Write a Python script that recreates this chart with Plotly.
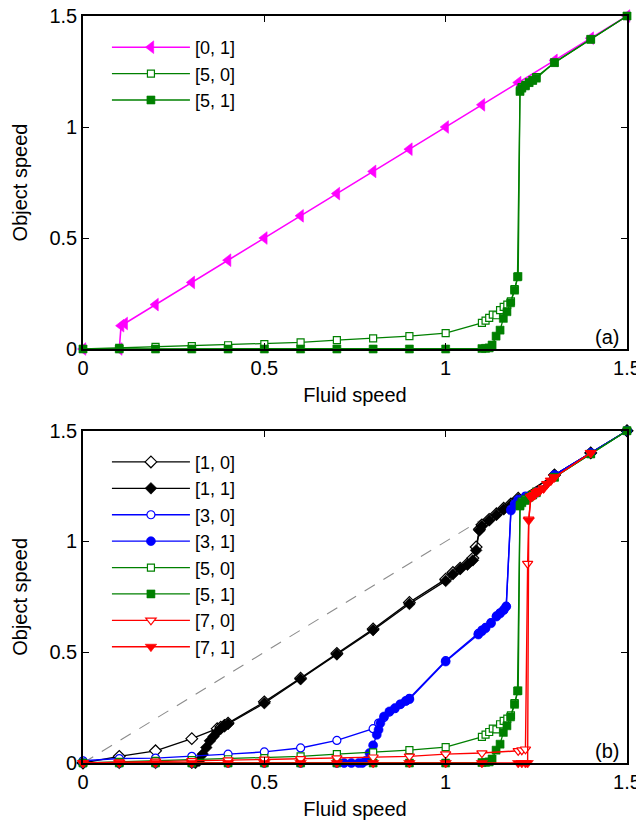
import plotly.graph_objects as go
from plotly.subplots import make_subplots

# ---------------- Panel (a) data ----------------
a01_x = [0, 0.1, 0.105, 0.115, 0.2, 0.3, 0.4, 0.5, 0.6, 0.7, 0.8, 0.9, 1.0, 1.1, 1.2, 1.3, 1.4, 1.5]
a01_y = [0, 0, 0.105, 0.115, 0.2, 0.3, 0.4, 0.5, 0.6, 0.7, 0.8, 0.9, 1.0, 1.1, 1.2, 1.3, 1.4, 1.5]

g50_x = [0, 0.1, 0.2, 0.3, 0.4, 0.5, 0.6, 0.7, 0.8, 0.9, 1.0, 1.1, 1.11, 1.12, 1.13, 1.14, 1.15,
         1.16, 1.17, 1.18, 1.19, 1.2, 1.205, 1.21, 1.22, 1.23, 1.24, 1.25, 1.3, 1.4, 1.5]
g50_y = [0, 0.005, 0.01, 0.013, 0.017, 0.022, 0.03, 0.04, 0.048, 0.058, 0.072, 0.118, 0.128, 0.14,
         0.155, 0.152, 0.175, 0.19, 0.2, 0.215, 0.27, 0.327, 1.165, 1.18, 1.19, 1.2, 1.21, 1.225, 1.29, 1.395, 1.5]

g51_x = [0, 0.1, 0.2, 0.3, 0.4, 0.5, 0.6, 0.7, 0.8, 0.9, 1.0, 1.1, 1.11, 1.12, 1.128, 1.139, 1.15,
         1.159, 1.169, 1.179, 1.19, 1.198, 1.205, 1.21, 1.22, 1.23, 1.24, 1.25, 1.3, 1.4, 1.5]
g51_y = [0, 0, 0, 0, 0, 0, 0, 0, 0, 0, 0, 0.002, 0.003, 0.005, 0.018, 0.058, 0.085,
         0.138, 0.168, 0.208, 0.265, 0.325, 1.16, 1.175, 1.185, 1.2, 1.21, 1.22, 1.29, 1.395, 1.5]

# ---------------- Panel (b) data ----------------
k10_x = [0, 0.1, 0.2, 0.3, 0.37, 0.38, 0.39, 0.4, 0.5, 0.6, 0.7, 0.8, 0.9, 1.0, 1.02, 1.04, 1.06,
         1.075, 1.084, 1.093, 1.1, 1.12, 1.14, 1.16, 1.18, 1.2, 1.3, 1.4, 1.5]
k10_y = [0, 0.03, 0.055, 0.11, 0.155, 0.162, 0.17, 0.18, 0.276, 0.383, 0.495, 0.605, 0.725, 0.83, 0.86,
         0.88, 0.9, 0.925, 0.975, 1.055, 1.075, 1.1, 1.125, 1.15, 1.17, 1.195, 1.3, 1.4, 1.5]

k11_x = [0, 0.1, 0.2, 0.3, 0.31, 0.32, 0.33, 0.34, 0.35, 0.36, 0.37, 0.38, 0.39, 0.4, 0.5, 0.6, 0.7,
         0.8, 0.9, 1.0, 1.02, 1.04, 1.06, 1.075, 1.084, 1.093, 1.1, 1.12, 1.14, 1.16, 1.18, 1.2, 1.3, 1.4, 1.5]
k11_y = [0, 0, 0, 0, 0, 0.01, 0.04, 0.07, 0.1, 0.12, 0.14, 0.155, 0.165, 0.176, 0.27, 0.378, 0.49,
         0.6, 0.718, 0.822, 0.852, 0.875, 0.895, 0.915, 0.96, 1.05, 1.07, 1.095, 1.12, 1.145, 1.165, 1.19, 1.3, 1.4, 1.5]

b30_x = [0, 0.1, 0.2, 0.3, 0.4, 0.5, 0.6, 0.7, 0.8, 0.815, 0.83, 0.845, 0.86, 0.875, 0.89, 0.9, 1.0,
         1.09, 1.1, 1.11, 1.125, 1.14, 1.15, 1.16, 1.167, 1.18, 1.19, 1.2, 1.22, 1.25, 1.3, 1.4, 1.5]
b30_y = [0.01, 0.02, 0.022, 0.03, 0.04, 0.05, 0.068, 0.102, 0.155, 0.18, 0.205, 0.23, 0.245, 0.265,
         0.28, 0.292, 0.462, 0.585, 0.6, 0.612, 0.634, 0.664, 0.678, 0.692, 0.708, 1.145, 1.17, 1.19,
         1.205, 1.225, 1.3, 1.4, 1.5]

b31_x = [0, 0.1, 0.2, 0.3, 0.4, 0.5, 0.6, 0.7, 0.72, 0.74, 0.76, 0.77, 0.78, 0.79, 0.8, 0.81, 0.815,
         0.82, 0.83, 0.845, 0.86, 0.875, 0.89, 0.9, 1.0, 1.09, 1.1, 1.11, 1.125, 1.14, 1.15, 1.16,
         1.167, 1.18, 1.19, 1.2, 1.22, 1.25, 1.3, 1.4, 1.5]
b31_y = [0, 0, 0, 0, 0, 0, 0, 0, 0, 0, 0, 0, 0.01, 0.045, 0.08, 0.127, 0.15, 0.18, 0.21, 0.233,
         0.248, 0.265, 0.28, 0.288, 0.458, 0.58, 0.595, 0.608, 0.631, 0.661, 0.675, 0.69, 0.706,
         1.14, 1.165, 1.185, 1.2, 1.22, 1.3, 1.4, 1.5]

r70_x = [0, 0.1, 0.2, 0.3, 0.4, 0.5, 0.6, 0.7, 0.8, 0.9, 1.0, 1.1, 1.2, 1.21, 1.22, 1.226, 1.229,
         1.235, 1.24, 1.245, 1.25, 1.255, 1.26, 1.27, 1.28, 1.29, 1.3, 1.4]
r70_y = [0, 0.004, 0.007, 0.01, 0.013, 0.016, 0.019, 0.022, 0.026, 0.03, 0.04, 0.045, 0.055, 0.058,
         0.062, 0.9, 1.1, 1.2, 1.205, 1.21, 1.22, 1.225, 1.23, 1.24, 1.26, 1.275, 1.29, 1.4]

r71_x = [0, 0.1, 0.2, 0.3, 0.4, 0.5, 0.6, 0.7, 0.8, 0.9, 1.0, 1.1, 1.2, 1.21, 1.22, 1.226, 1.229,
         1.235, 1.24, 1.245, 1.25, 1.255, 1.26, 1.27, 1.28, 1.29, 1.3, 1.4]
r71_y = [0, 0, 0, 0, 0, 0, 0, 0, 0, 0, 0, 0, 0, 0, 0, 0, 1.095, 1.2, 1.205, 1.21, 1.22, 1.225, 1.23,
         1.24, 1.26, 1.275, 1.29, 1.4]

diag_x = [0, 1.1]
diag_y = [0, 1.1]

tick_vals = [0, 0.5, 1, 1.5]
tick_text = ["0", "0.5", "1", "1.5"]

MAG = "#FF00FF"
GRN = "#008000"
BLU = "#0000FF"
RED = "#FF0000"
BLK = "#000000"
FONT = "Liberation Sans, Arial, Helvetica, sans-serif"

fig = make_subplots(rows=2, cols=1, vertical_spacing=0.1)


def add(x, y, name, color, symbol, size, filled, row, legend, lw=1.4):
    marker = dict(symbol=symbol, size=size, color=color if filled else "white",
                  line=dict(color=color, width=1.2 if not filled else 0.6))
    fig.add_trace(go.Scatter(x=x, y=y, name=name, mode="lines+markers",
                             line=dict(color=color, width=lw), marker=marker,
                             cliponaxis=False, legend=legend), row=row, col=1)


# Panel (a)
add(a01_x, a01_y, "[0, 1]", MAG, "triangle-left", 11, True, 1, "legend", lw=1.6)
add(g50_x, g50_y, "[5, 0]", GRN, "square", 7, False, 1, "legend", lw=1.3)
add(g51_x, g51_y, "[5, 1]", GRN, "square", 8, True, 1, "legend", lw=1.3)

# Panel (b)
fig.add_trace(go.Scatter(x=diag_x, y=diag_y, mode="lines", showlegend=False,
                         line=dict(color="#8c8c8c", width=1.1, dash="12px,10px")), row=2, col=1)
add(k10_x, k10_y, "[1, 0]", BLK, "diamond", 9, False, 2, "legend2", lw=1.3)
add(k11_x, k11_y, "[1, 1]", BLK, "diamond", 9, True, 2, "legend2", lw=1.3)
add(b30_x, b30_y, "[3, 0]", BLU, "circle", 8, False, 2, "legend2", lw=1.4)
add(b31_x, b31_y, "[3, 1]", BLU, "circle", 9, True, 2, "legend2", lw=1.4)
add(g50_x, g50_y, "[5, 0]", GRN, "square", 7, False, 2, "legend2", lw=1.3)
add(g51_x, g51_y, "[5, 1]", GRN, "square", 8, True, 2, "legend2", lw=1.3)
add(r70_x, r70_y, "[7, 0]", RED, "triangle-down", 9, False, 2, "legend2", lw=1.4)
add(r71_x, r71_y, "[7, 1]", RED, "triangle-down", 10, True, 2, "legend2", lw=1.4)

axis_common = dict(range=[0, 1.5], tickvals=tick_vals, ticktext=tick_text, showgrid=False,
                   zeroline=False, showline=True, linecolor="black", linewidth=1.6, mirror="ticks",
                   ticks="inside", ticklen=6, tickwidth=1.2, tickcolor="black", automargin=False,
                   ticklabeloverflow="allow",
                   tickfont=dict(family=FONT, size=20, color="black"))

fig.update_xaxes(**axis_common)
fig.update_yaxes(**axis_common)
fig.update_xaxes(title=dict(text="Fluid speed", font=dict(family=FONT, size=20, color="black"), standoff=10))
fig.update_yaxes(title=dict(text="Object speed", font=dict(family=FONT, size=20, color="black"), standoff=16))

# the page adds an 8px body margin, so the figure is 636x815
fig.update_layout(
    width=636, height=815,
    margin=dict(l=75, r=17, t=8, b=60, autoexpand=False),
    paper_bgcolor="white", plot_bgcolor="white",
    font=dict(family=FONT, size=20, color="black"),
    xaxis=dict(domain=[0, 1]), yaxis=dict(domain=[0.5542, 1.0]),
    xaxis2=dict(domain=[0, 1]), yaxis2=dict(domain=[0.0, 0.4448]),
    legend=dict(x=0.044, y=0.9826, xref="paper", yref="paper", xanchor="left", yanchor="top",
                bgcolor="rgba(0,0,0,0)", itemwidth=78, tracegroupgap=0,
                font=dict(family=FONT, size=18, color="black")),
    legend2=dict(x=0.044, y=0.4274, xref="paper", yref="paper", xanchor="left", yanchor="top",
                 bgcolor="rgba(0,0,0,0)", itemwidth=78, tracegroupgap=0,
                 font=dict(family=FONT, size=18, color="black")),
    annotations=[
        dict(text="(a)", xref="x domain", yref="y domain", x=0.963, y=0.037, showarrow=False,
             xanchor="center", yanchor="middle", font=dict(family=FONT, size=20, color="black")),
        dict(text="(b)", xref="x2 domain", yref="y2 domain", x=0.963, y=0.037, showarrow=False,
             xanchor="center", yanchor="middle", font=dict(family=FONT, size=20, color="black")),
    ],
)

fig.write_html("out.html")
